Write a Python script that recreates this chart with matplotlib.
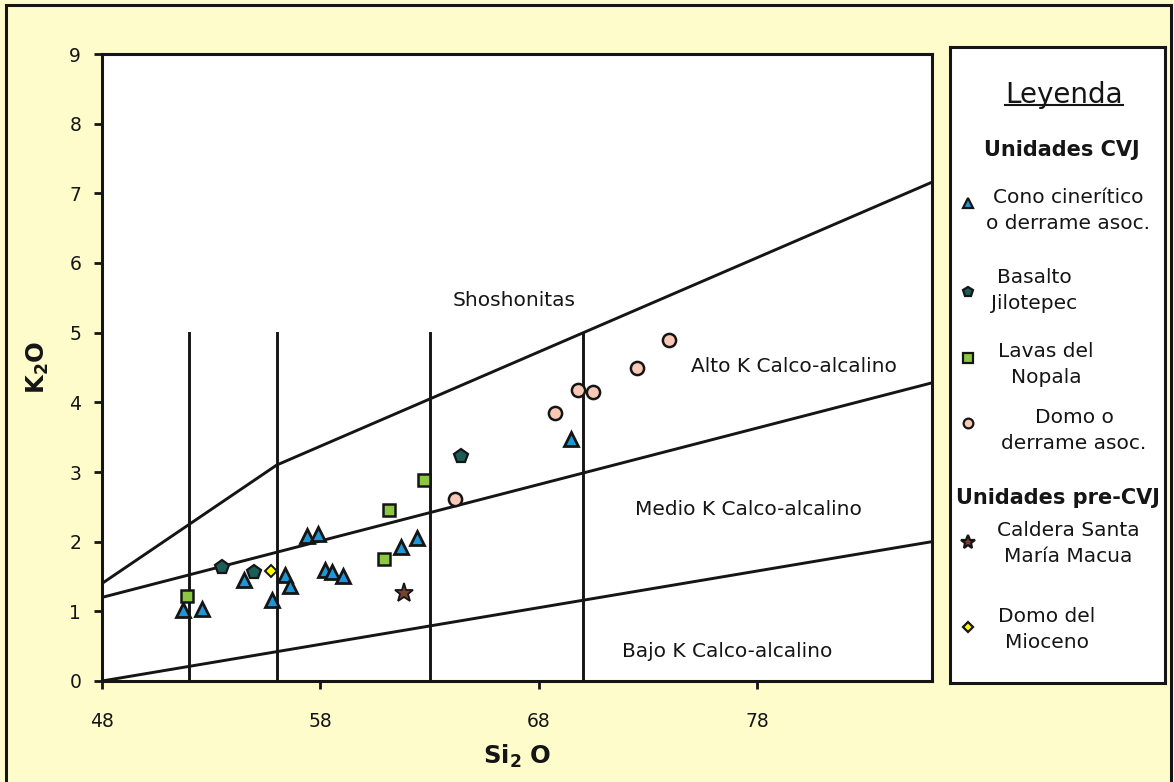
import matplotlib
matplotlib.use("Agg")
import matplotlib.pyplot as plt
from matplotlib.patches import Rectangle

plt.rcParams['font.family'] = ['DejaVu Sans']
plt.rcParams['mathtext.default'] = 'regular'

# --- data (SiO2 wt%, K2O wt%) ---
cono_x = [51.7, 52.6, 54.5, 55.8, 56.4, 56.6, 57.4, 57.9, 58.2, 58.55, 59.05, 61.7, 62.4, 69.45]
cono_y = [1.02, 1.04, 1.45, 1.16, 1.52, 1.36, 2.08, 2.11, 1.59, 1.56, 1.51, 1.92, 2.05, 3.47]

basalto_x = [53.5, 54.95, 64.45]
basalto_y = [1.64, 1.57, 3.23]

nopala_x = [51.87, 60.93, 61.16, 62.72]
nopala_y = [1.22, 1.75, 2.46, 2.89]

domo_x = [64.17, 68.72, 69.78, 70.46, 72.5, 73.94]
domo_y = [2.61, 3.85, 4.17, 4.15, 4.49, 4.89]

caldera_x = [61.83]
caldera_y = [1.27]

mioceno_x = [55.74]
mioceno_y = [1.58]

# classification boundaries
bajo_x = [48, 86]
bajo_y = [0.0, 2.0]
medio_x = [48, 86]
medio_y = [1.2, 4.28]
shosh_x = [48, 56, 86]
shosh_y = [1.4, 3.1, 7.16]
div_x = [52, 56, 63, 70]
div_top = 5

W, H = 1174, 782
bg = '#fffccc'
ink = '#151515'

fig = plt.figure(figsize=(W / 100, H / 100), dpi=100, facecolor=bg)

ax = fig.add_axes([102 / W, 101 / H, 830 / W, 627 / H])
ax.set_facecolor('white')

ax.plot(bajo_x, bajo_y, color=ink, lw=2.1)
ax.plot(medio_x, medio_y, color=ink, lw=2.1)
ax.plot(shosh_x, shosh_y, color=ink, lw=2.1)
for xv in div_x:
    ax.plot([xv, xv], [0, div_top], color=ink, lw=2.1)

ax.plot(cono_x, cono_y, ls='none', marker='^', ms=9.5, mfc='#1e96d8', mec=ink, mew=2.0, zorder=5)
ax.plot(basalto_x, basalto_y, ls='none', marker='p', ms=10, mfc='#1b5e58', mec=ink, mew=1.6, zorder=5)
ax.plot(nopala_x, nopala_y, ls='none', marker='s', ms=8.5, mfc='#8dc63f', mec=ink, mew=1.8, zorder=5)
ax.plot(domo_x, domo_y, ls='none', marker='o', ms=9.5, mfc='#f9c9b6', mec=ink, mew=1.8, zorder=5)
ax.plot(caldera_x, caldera_y, ls='none', marker='*', ms=14, mfc='#7a4030', mec=ink, mew=1.3, zorder=5)
ax.plot(mioceno_x, mioceno_y, ls='none', marker='D', ms=6.5, mfc='#ffff00', mec=ink, mew=1.4, zorder=5)

ax.text(66.87, 5.38, 'Shoshonitas', fontsize=14.5, ha='center', va='baseline', color=ink)
ax.text(79.68, 4.44, 'Alto K Calco-alcalino', fontsize=14.5, ha='center', va='baseline', color=ink)
ax.text(77.6, 2.385, 'Medio K Calco-alcalino', fontsize=14.5, ha='center', va='baseline', color=ink)
ax.text(76.63, 0.35, 'Bajo K Calco-alcalino', fontsize=14.5, ha='center', va='baseline', color=ink)

ax.set_xlim(48, 86)
ax.set_ylim(0, 9)
ax.set_xticks([48, 58, 68, 78])
ax.set_yticks(range(10))
for s in ax.spines.values():
    s.set_linewidth(2.2)
    s.set_color(ink)
ax.tick_params(axis='both', direction='out', length=6, width=2, labelsize=13.5, colors=ink)
ax.tick_params(axis='x', pad=16)
ax.tick_params(axis='y', pad=9)

ax.set_xlabel('Si$_2$ O', fontsize=17.5, fontweight='bold', color=ink)
ax.xaxis.set_label_coords(0.5, -0.098)
ax.set_ylabel('K$_2$O', fontsize=17.5, fontweight='bold', color=ink)
ax.yaxis.set_label_coords(-0.062, 0.5)

# --- legend panel drawn in pixel coordinates ---
lg = fig.add_axes([950 / W, (H - 683) / H, 215 / W, 636 / H])
lg.set_xlim(950, 1165)
lg.set_ylim(683, 47)
lg.set_facecolor('white')
lg.set_xticks([])
lg.set_yticks([])
for s in lg.spines.values():
    s.set_linewidth(2.2)
    s.set_color(ink)

lg.text(1064, 103, 'Leyenda', fontsize=20, ha='center', va='baseline', color=ink)
lg.plot([1005, 1123], [105, 105], color=ink, lw=1.5)
lg.text(1062, 156.5, 'Unidades CVJ', fontsize=15, fontweight='bold', ha='center', va='baseline', color=ink)
lg.text(1058, 504, 'Unidades pre-CVJ', fontsize=15, fontweight='bold', ha='center', va='baseline', color=ink)

legend_rows = [
    ('^', '#1e96d8', 7, 203, ['Cono cinerítico', 'o derrame asoc.'], 1068, 203.3),
    ('p', '#1b5e58', 7.5, 292, ['Basalto', 'Jilotepec'], 1034, 283.3),
    ('s', '#8dc63f', 6.5, 358, ['Lavas del', 'Nopala'], 1046, 356.7),
    ('o', '#f9c9b6', 7, 423, ['Domo o', 'derrame asoc.'], 1074, 423.3),
    ('*', '#7a4030', 10, 542, ['Caldera Santa', 'María Macua'], 1068, 535.7),
    ('D', '#ffff00', 5, 627, ['Domo del', 'Mioceno'], 1047, 622.3),
]
for mk, fc, ms, my, lines, tx, ty in legend_rows:
    lg.plot([968], [my], ls='none', marker=mk, ms=ms, mfc=fc, mec=ink, mew=1.6)
    for i, t in enumerate(lines):
        lg.text(tx, ty + 26 * i, t, fontsize=14.5, ha='center', va='baseline', color=ink)

# outer frame of the figure
fig.add_artist(Rectangle((6 / W, -0.05), (1171 - 6) / W, 1.05 - 5 / H,
                         transform=fig.transFigure, fill=False, lw=2.2, ec=ink))

fig.savefig('out.png', dpi=100, facecolor=bg)
